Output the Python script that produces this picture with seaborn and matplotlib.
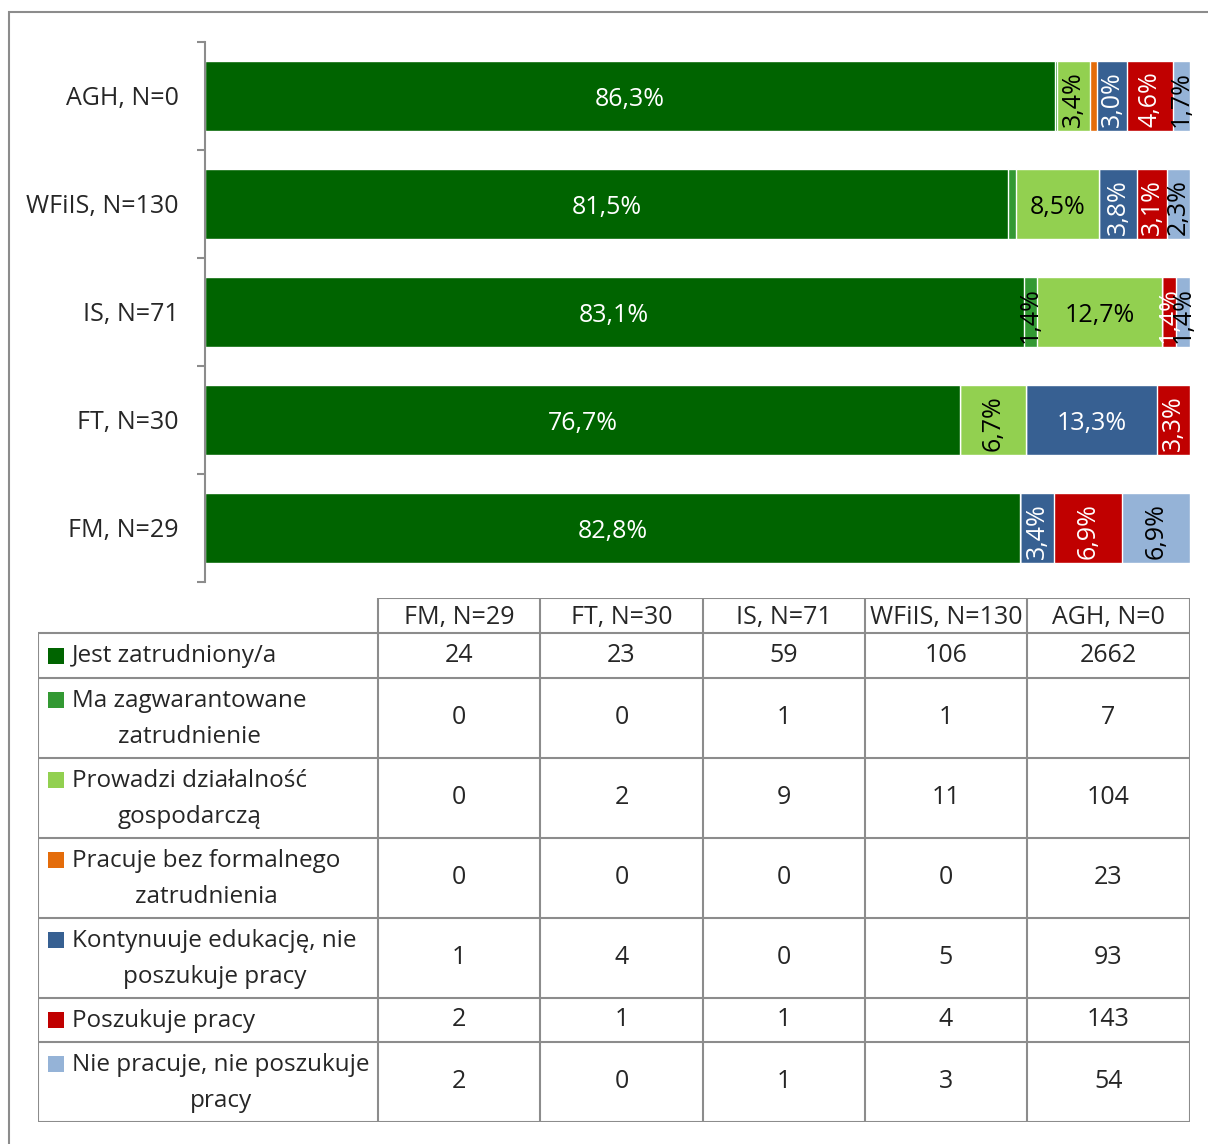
import matplotlib
matplotlib.use("Agg")
import matplotlib.pyplot as plt
import pandas as pd
import seaborn as sns
from matplotlib.patches import Rectangle

# columns of the table (left to right); bars are drawn in reverse order (AGH on top)
groups = ["FM, N=29", "FT, N=30", "IS, N=71", "WFiIS, N=130", "AGH, N=0"]

statuses = ["Jest zatrudniony/a",
            "Ma zagwarantowane\nzatrudnienie",
            "Prowadzi działalność\ngospodarczą",
            "Pracuje bez formalnego\nzatrudnienia",
            "Kontynuuje edukację, nie\nposzukuje pracy",
            "Poszukuje pracy",
            "Nie pracuje, nie poszukuje\npracy"]

jest_zatrudniony = [24, 23, 59, 106, 2662]
ma_zagwarantowane = [0, 0, 1, 1, 7]
prowadzi_dzialalnosc = [0, 2, 9, 11, 104]
bez_formalnego = [0, 0, 0, 0, 23]
kontynuuje_edukacje = [1, 4, 0, 5, 93]
poszukuje_pracy = [2, 1, 1, 4, 143]
nie_pracuje = [2, 0, 1, 3, 54]

colors = ["#006400", "#339933", "#92D050", "#E46C0A", "#376092", "#C00000", "#95B3D7"]
text_colors = ["white", "black", "black", "black", "white", "white", "black"]

counts = pd.DataFrame({
    statuses[0]: jest_zatrudniony,
    statuses[1]: ma_zagwarantowane,
    statuses[2]: prowadzi_dzialalnosc,
    statuses[3]: bez_formalnego,
    statuses[4]: kontynuuje_edukacje,
    statuses[5]: poszukuje_pracy,
    statuses[6]: nie_pracuje,
}, index=groups)

pct = counts.div(counts.sum(axis=1), axis=0) * 100
cum = pct.cumsum(axis=1)
bar_order = groups[::-1]

sns.set_style("white")
plt.rcParams["font.family"] = ["Open Sans", "DejaVu Sans"]
FS = 18
GRAY = "#8c8c8c"

W, H = 1208, 1144
fig = plt.figure(figsize=(W / 100, H / 100), dpi=100)

# outer frame (only top and left edges visible)
fig.patches.append(Rectangle((9 / W, -0.1), 1.2, 1 - 12 / H + 0.1, transform=fig.transFigure,
                             fill=False, edgecolor=GRAY, linewidth=1.5))

# ---- stacked 100% bars
ax = fig.add_axes([205 / W, 1 - 582 / H, (1190 - 205) / W, (582 - 42) / H])
data = cum.reset_index().rename(columns={"index": "grupa"})
for i in reversed(range(len(statuses))):
    sns.barplot(data=data, x=statuses[i], y="grupa", order=bar_order, color=colors[i],
                saturation=1, width=0.65, ax=ax)

for j, g in enumerate(bar_order):
    for i, s in enumerate(statuses):
        p = pct.loc[g, s]
        if p < 1:
            continue
        lab = f"{p:.1f}%".replace(".", ",")
        ax.text(cum.loc[g, s] - p / 2, j + 0.03, lab, ha="center", va="center", fontsize=FS,
                color=text_colors[i], rotation=0 if p >= 8 else 90)

ax.set_xlim(0, 100)
ax.set_ylim(len(bar_order) - 0.5, -0.5)
ax.set_xlabel("")
ax.set_ylabel("")
ax.set_xticks([])
ax.set_yticks(range(len(bar_order)))
ax.set_yticklabels(bar_order, fontsize=FS)
ax.set_yticks([k - 0.5 for k in range(len(bar_order) + 1)], minor=True)
ax.tick_params(axis="y", which="major", length=0, pad=19)
ax.tick_params(axis="y", which="minor", left=True, length=6, width=1.5, color=GRAY,
               direction="out")
for side in ["top", "right", "bottom"]:
    ax.spines[side].set_visible(False)
ax.spines["left"].set_color(GRAY)
ax.spines["left"].set_linewidth(1.5)

# ---- data table with legend keys
col_edges = [0, 340, 502, 665, 827, 989, 1152]
row_edges = [0, 35, 80, 160, 240, 320, 400, 444, 524]
tab = fig.add_axes([38 / W, 1 - 1122 / H, 1152 / W, 524 / H])
tab.set_xlim(0, col_edges[-1])
tab.set_ylim(row_edges[-1], 0)
tab.axis("off")

tab.hlines(row_edges[0], col_edges[1], col_edges[-1], color=GRAY, lw=1.5)
tab.hlines(row_edges[1:], col_edges[0], col_edges[-1], color=GRAY, lw=1.5)
tab.vlines(col_edges[0], row_edges[1], row_edges[-1], color=GRAY, lw=1.5)
tab.vlines(col_edges[1:], row_edges[0], row_edges[-1], color=GRAY, lw=1.5)

for c, g in enumerate(groups):
    xc = (col_edges[c + 1] + col_edges[c + 2]) / 2
    tab.text(xc, (row_edges[0] + row_edges[1]) / 2 + 2, g, ha="center", va="center", fontsize=FS)

for r, s in enumerate(statuses):
    y0, y1 = row_edges[r + 1], row_edges[r + 2]
    yc = (y0 + y1) / 2
    nlines = s.count("\n") + 1
    ykey = yc - (nlines - 1) * 18
    tab.add_patch(Rectangle((10, ykey - 8), 16, 16, color=colors[r], lw=0))
    tab.text(34, yc + 1, s, ha="left", va="center", fontsize=17.5, multialignment="center",
             linespacing=1.65)
    for c, g in enumerate(groups):
        xc = (col_edges[c + 1] + col_edges[c + 2]) / 2
        tab.text(xc, yc, str(counts.loc[g, s]), ha="center", va="center", fontsize=FS)

fig.savefig("out.png", dpi=100)
